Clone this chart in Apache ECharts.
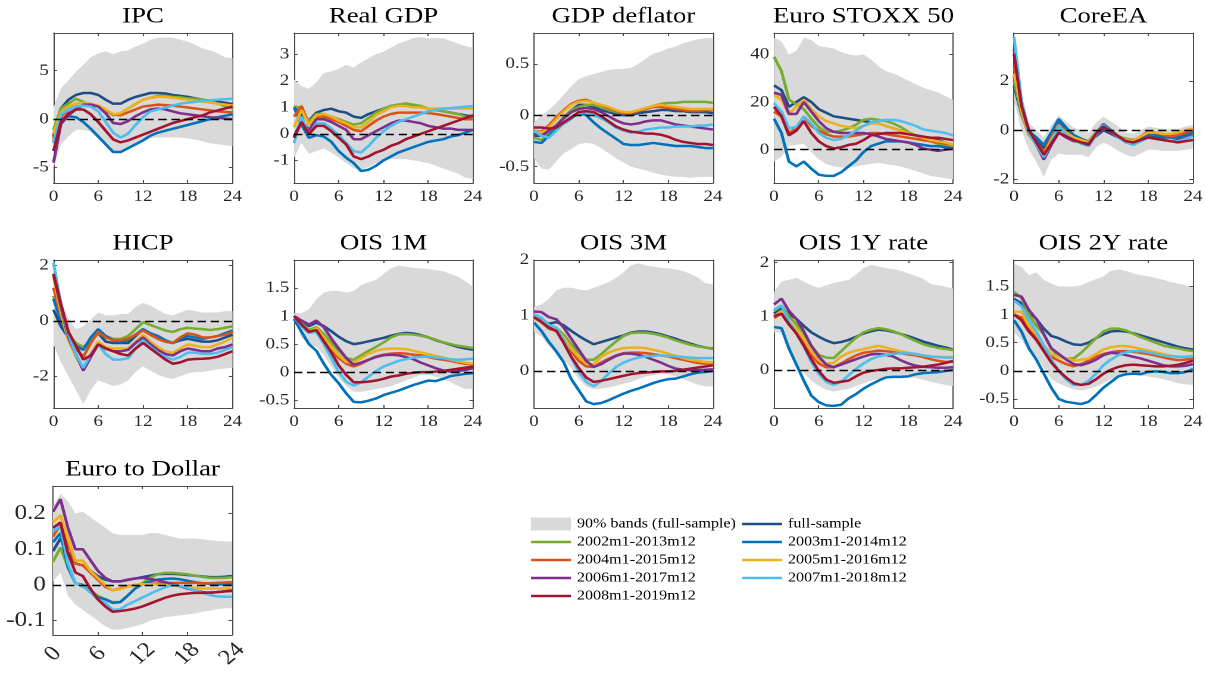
<!DOCTYPE html>
<html>
<head>
<meta charset="utf-8">
<script src="https://cdn.jsdelivr.net/npm/echarts@6/dist/echarts.min.js"></script>
<style>
  html, body { margin: 0; padding: 0; background: #fff; overflow: hidden; }
  /* the figure is laid out narrower and widened horizontally as a whole */
  #chart { width: 1013px; height: 675px; transform: scaleX(1.19052); transform-origin: 0 0; }
</style>
</head>
<body>
<div id="chart"></div>
<script>
// ---- horizon (months) ----
const months = [0,1,2,3,4,5,6,7,8,9,10,11,12,13,14,15,16,17,18,19,20,21,22,23,24];

// ---- samples ----
const bandName = '90% bands (full-sample)';
const sampleNames = ['full-sample','2002m1-2013m12','2003m1-2014m12','2004m1-2015m12',
                     '2005m1-2016m12','2006m1-2017m12','2007m1-2018m12','2008m1-2019m12'];

// ---- IPC ----
const ipcTicks = [-5, 0, 5];
const ipcFull = [-1.8,1.1,2.0,2.5,2.7,2.7,2.5,2.0,1.6,1.6,2.0,2.3,2.5,2.7,2.7,2.65,2.5,2.4,2.3,2.15,2.0,1.9,1.8,1.7,1.55];
const ipc02 = [-1.1,1.1,1.6,2.1,1.8,1.45,1.35,0.9,0.4,0.6,1.1,1.55,2.0,2.2,2.4,2.4,2.3,2.25,2.15,2.1,2.0,1.8,1.6,1.35,1.1];
const ipc03 = [-2.3,0.0,0.3,0.2,-0.3,-1.0,-1.8,-2.6,-3.4,-3.4,-3.0,-2.6,-2.2,-1.7,-1.4,-1.2,-1.0,-0.8,-0.6,-0.4,-0.2,0.0,0.2,0.35,0.5];
const ipc04 = [-2.0,0.3,1.0,1.3,1.4,1.4,1.3,0.9,0.5,0.4,0.7,1.0,1.3,1.4,1.5,1.45,1.4,1.3,1.2,1.1,1.0,0.9,0.8,0.75,0.7];
const ipc05 = [-1.5,0.7,1.3,1.6,1.7,1.6,1.4,1.0,0.5,0.6,1.1,1.6,2.0,2.2,2.3,2.3,2.2,2.1,2.0,1.9,1.8,1.7,1.6,1.5,1.4];
const ipc06 = [-4.5,-0.5,0.4,1.0,1.5,1.5,1.3,0.6,-0.4,-0.5,-0.2,0.3,0.7,1.0,1.1,1.0,0.8,0.6,0.5,0.4,0.3,0.2,0.15,0.05,0.0];
const ipc07 = [-2.5,0.5,1.0,1.3,1.4,1.3,0.8,-0.3,-1.4,-1.9,-1.5,-0.6,0.2,0.8,1.0,1.2,1.4,1.6,1.7,1.8,1.9,1.95,2.0,2.05,2.1];
const ipc08 = [-3.3,-0.3,0.6,1.0,1.0,0.5,-0.3,-1.2,-2.1,-2.4,-2.2,-1.9,-1.6,-1.3,-1.0,-0.7,-0.4,-0.2,0.0,0.2,0.4,0.7,0.9,1.1,1.3];
const ipcHi = [1.2,3.2,4.0,4.9,5.6,6.4,6.8,7.0,6.7,7.0,7.1,7.5,7.8,8.2,8.4,8.45,8.4,8.2,8.0,7.7,7.3,7.1,6.8,6.4,6.3];
const ipcLo = [-5.0,-2.6,-1.8,-1.1,-1.1,-1.3,-2.0,-2.8,-3.3,-3.3,-3.0,-2.6,-2.3,-2.0,-1.9,-1.9,-1.9,-1.9,-2.0,-2.1,-2.3,-2.5,-2.6,-2.7,-2.8];

// ---- Real GDP ----
const gdpTicks = [-1, 0, 1, 2, 3];
const gdpFull = [1.0,0.7,0.5,0.8,0.9,0.95,0.85,0.8,0.65,0.6,0.75,0.85,0.95,1.05,1.1,1.1,1.05,1.0,0.95,0.9,0.85,0.8,0.75,0.7,0.65];
const gdp02 = [1.05,0.95,0.45,0.75,0.75,0.65,0.55,0.45,0.35,0.4,0.6,0.8,0.95,1.05,1.1,1.15,1.1,1.05,0.95,0.9,0.85,0.8,0.75,0.65,0.55];
const gdp03 = [1.0,0.35,-0.15,-0.05,-0.1,-0.3,-0.65,-0.9,-1.1,-1.4,-1.35,-1.2,-1.0,-0.85,-0.7,-0.6,-0.5,-0.4,-0.3,-0.25,-0.2,-0.1,-0.05,0.05,0.15];
const gdp04 = [0.65,1.05,0.35,0.65,0.65,0.55,0.45,0.3,0.15,0.1,0.3,0.5,0.65,0.75,0.8,0.8,0.8,0.8,0.78,0.75,0.7,0.65,0.6,0.55,0.55];
const gdp05 = [0.25,0.9,0.35,0.7,0.75,0.65,0.5,0.4,0.25,0.25,0.45,0.7,0.85,1.0,1.05,1.05,1.0,1.0,0.95,0.95,0.95,0.95,0.95,0.95,0.95];
const gdp06 = [-0.1,0.5,0.15,0.55,0.55,0.45,0.3,0.15,-0.2,-0.2,-0.05,0.1,0.25,0.4,0.5,0.5,0.45,0.4,0.3,0.25,0.2,0.2,0.15,0.15,0.15];
const gdp07 = [-0.35,0.65,-0.05,0.4,0.4,0.2,-0.05,-0.35,-0.65,-0.7,-0.45,-0.15,0.1,0.3,0.45,0.55,0.65,0.75,0.85,0.9,0.95,0.97,1.0,1.02,1.05];
const gdp08 = [-0.15,0.45,0.0,0.3,0.3,0.1,-0.15,-0.4,-0.85,-0.95,-0.85,-0.7,-0.6,-0.45,-0.35,-0.2,-0.1,0.0,0.1,0.2,0.3,0.4,0.5,0.6,0.7];
const gdpHi = [2.05,1.8,1.7,1.95,2.3,2.35,2.45,2.6,2.5,2.7,2.85,3.0,3.1,3.25,3.4,3.5,3.6,3.65,3.6,3.6,3.6,3.5,3.4,3.3,3.25];
const gdpLo = [-0.9,-0.35,-0.75,-0.65,-0.55,-0.7,-0.9,-1.1,-1.3,-1.35,-1.25,-1.1,-1.0,-0.95,-0.95,-0.95,-1.0,-1.05,-1.1,-1.2,-1.3,-1.4,-1.5,-1.65,-1.7];

// ---- GDP deflator ----
const deflTicks = [-0.5, 0, 0.5];
const deflFull = [-0.2,-0.2,-0.17,-0.1,-0.02,0.05,0.1,0.1,0.08,0.05,0.03,0.01,0.0,0.0,0.02,0.03,0.04,0.05,0.05,0.04,0.04,0.03,0.03,0.03,0.02];
const defl02 = [-0.22,-0.24,-0.18,-0.1,-0.02,0.05,0.08,0.1,0.1,0.08,0.05,0.03,0.02,0.02,0.04,0.07,0.09,0.11,0.12,0.12,0.13,0.13,0.13,0.13,0.12];
const defl03 = [-0.26,-0.27,-0.2,-0.13,-0.08,-0.03,0.02,0.0,-0.07,-0.13,-0.18,-0.23,-0.28,-0.29,-0.29,-0.28,-0.27,-0.28,-0.29,-0.3,-0.3,-0.3,-0.31,-0.32,-0.32];
const defl04 = [-0.15,-0.16,-0.1,-0.02,0.05,0.11,0.14,0.15,0.12,0.1,0.07,0.04,0.02,0.02,0.04,0.06,0.08,0.08,0.07,0.06,0.05,0.04,0.04,0.05,0.05];
const defl05 = [-0.15,-0.17,-0.12,-0.04,0.04,0.1,0.13,0.14,0.12,0.1,0.08,0.05,0.03,0.03,0.05,0.07,0.09,0.1,0.09,0.08,0.07,0.06,0.06,0.06,0.06];
const defl06 = [-0.18,-0.2,-0.15,-0.1,-0.03,0.03,0.06,0.07,0.06,0.03,-0.01,-0.05,-0.08,-0.09,-0.08,-0.06,-0.05,-0.05,-0.07,-0.09,-0.1,-0.11,-0.12,-0.13,-0.14];
const defl07 = [-0.15,-0.2,-0.22,-0.15,-0.08,-0.02,0.02,0.03,0.0,-0.03,-0.07,-0.12,-0.15,-0.17,-0.16,-0.14,-0.13,-0.12,-0.12,-0.11,-0.11,-0.11,-0.1,-0.1,-0.09];
const defl08 = [-0.12,-0.12,-0.13,-0.12,-0.07,-0.02,0.03,0.04,0.03,-0.01,-0.06,-0.11,-0.14,-0.16,-0.17,-0.18,-0.18,-0.19,-0.21,-0.24,-0.26,-0.27,-0.28,-0.28,-0.29];
const deflHi = [-0.07,0.0,0.05,0.12,0.2,0.28,0.35,0.38,0.4,0.42,0.44,0.45,0.45,0.46,0.5,0.55,0.6,0.62,0.65,0.67,0.7,0.72,0.74,0.75,0.75];
const deflLo = [-0.42,-0.52,-0.53,-0.45,-0.37,-0.33,-0.28,-0.27,-0.28,-0.32,-0.37,-0.42,-0.46,-0.5,-0.52,-0.54,-0.56,-0.58,-0.59,-0.6,-0.6,-0.61,-0.6,-0.6,-0.6];

// ---- Euro STOXX 50 ----
const stoxxTicks = [0, 20, 40];
const stoxxFull = [27,25,18,20,22,20,17,15.5,14,13.5,13,12.5,12,11.5,11,10,9,8,7,6,5,4.5,4,3,2];
const stoxx02 = [39,33,21,19,17,13,9.5,7.5,7.5,8,9,10.5,12.5,13,12.5,12,11,9.5,7.5,6,4.5,3.5,2.5,1.5,1];
const stoxx03 = [13,7,-5,-7,-5,-8,-10.5,-11,-11,-9.5,-7,-4.5,-1,1.5,2.5,3.5,3.5,3.5,3,2.5,2,1.5,1.5,1,0.5];
const stoxx04 = [16,14,7,9,14,10,8,6.5,5.5,5.5,5.5,6,6.5,7,7,6.5,6,5.5,5,4.5,4,3.5,3,2.5,2];
const stoxx05 = [23,21,15,18,21,17,14,12,11,10,9.5,9,10,11,11,10,9,8,7,6,5,4,3.5,3,2];
const stoxx06 = [24,23,15,15,20,16,12,9,7.5,7,7,7,7,6.5,5.5,4.5,4,3.5,3,2,0.5,0,-0.5,0,0.5];
const stoxx07 = [19.5,16,9,9.5,14,11,7,5,4,4.5,6,8,10,11.5,12,12.5,12.5,12,11,10,8.5,8,7.5,7,6];
const stoxx08 = [18,14,6,8,12,7,3.5,1.5,0.5,1,2,2.5,4,6,6.5,7,7,7,6.5,6,5.5,5,5,4.5,4];
const stoxxHi = [47,45.5,40,41.5,47,46,43.5,43,42.5,41,40,39.5,40,38,35,33,32,30.5,29,27.5,26,25,24,22.5,21];
const stoxxLo = [-5,-3,1.5,2,2.5,-1,-4,-6,-7,-7.5,-7.5,-7,-6.5,-6,-5.5,-6,-6.5,-7,-8,-9,-10,-11,-11.5,-12,-12.5];

// ---- CoreEA ----
const coreTicks = [-2, 0, 2];
const coreFull = [1.8,0.65,-0.15,-0.4,-0.75,-0.2,0.3,0.0,-0.25,-0.4,-0.5,-0.25,0.0,-0.15,-0.3,-0.45,-0.5,-0.35,-0.25,-0.3,-0.3,-0.3,-0.3,-0.2,-0.1];
const core02 = [2.0,0.7,-0.2,-0.55,-0.9,-0.35,0.2,-0.05,-0.25,-0.35,-0.45,-0.1,0.2,-0.05,-0.25,-0.35,-0.4,-0.3,-0.15,-0.2,-0.25,-0.25,-0.2,-0.1,-0.05];
const core03 = [2.2,0.8,-0.05,-0.3,-0.6,-0.1,0.45,0.1,-0.2,-0.35,-0.5,-0.15,0.25,0.0,-0.25,-0.4,-0.5,-0.3,-0.15,-0.2,-0.25,-0.3,-0.3,-0.2,-0.1];
const core04 = [2.6,0.9,-0.1,-0.5,-0.9,-0.3,0.25,-0.1,-0.3,-0.4,-0.5,-0.15,0.2,-0.05,-0.25,-0.4,-0.45,-0.25,-0.05,-0.1,-0.2,-0.25,-0.2,-0.1,0.0];
const core05 = [2.3,0.8,-0.15,-0.6,-1.0,-0.4,0.15,-0.1,-0.3,-0.4,-0.5,-0.15,0.15,-0.05,-0.25,-0.4,-0.45,-0.25,-0.1,-0.1,-0.15,-0.15,-0.1,0.0,0.05];
const core06 = [3.3,1.05,-0.1,-0.6,-1.2,-0.6,-0.1,-0.3,-0.45,-0.5,-0.55,-0.2,0.1,-0.1,-0.3,-0.45,-0.5,-0.4,-0.3,-0.35,-0.4,-0.45,-0.4,-0.3,-0.2];
const core07 = [3.8,1.2,-0.1,-0.6,-1.1,-0.5,0.2,-0.2,-0.4,-0.55,-0.65,-0.2,0.2,-0.05,-0.3,-0.5,-0.6,-0.45,-0.3,-0.35,-0.4,-0.45,-0.45,-0.35,-0.25];
const core08 = [3.1,1.0,0.0,-0.5,-1.0,-0.55,-0.1,-0.25,-0.4,-0.5,-0.6,-0.15,0.15,-0.05,-0.25,-0.45,-0.5,-0.4,-0.3,-0.35,-0.4,-0.45,-0.5,-0.45,-0.4];
const coreHi = [3.9,1.5,0.3,0.0,-0.3,0.2,0.6,0.35,0.1,0.0,-0.1,0.3,0.55,0.35,0.15,-0.1,-0.15,0.0,0.15,0.1,0.05,0.05,0.05,0.15,0.2];
const coreLo = [1.2,0.0,-0.8,-1.3,-1.9,-1.2,-0.95,-1.0,-1.0,-1.0,-1.1,-0.7,-0.5,-0.65,-0.85,-1.0,-1.1,-0.95,-0.8,-0.8,-0.85,-0.85,-0.85,-0.8,-0.75];

// ---- HICP ----
const hicpTicks = [-2, 0, 2];
const hicpFull = [0.4,-0.2,-0.6,-0.9,-1.0,-0.7,-0.45,-0.75,-0.8,-0.8,-0.8,-0.55,-0.3,-0.5,-0.65,-0.75,-0.8,-0.7,-0.65,-0.7,-0.75,-0.75,-0.7,-0.6,-0.5];
const hicp02 = [0.9,0.1,-0.5,-0.8,-0.95,-0.7,-0.45,-0.55,-0.65,-0.65,-0.55,-0.3,-0.05,-0.15,-0.25,-0.35,-0.4,-0.3,-0.25,-0.28,-0.3,-0.33,-0.3,-0.25,-0.2];
const hicp03 = [0.8,0.0,-0.6,-0.9,-1.05,-0.6,-0.3,-0.55,-0.7,-0.75,-0.7,-0.5,-0.3,-0.45,-0.55,-0.7,-0.8,-0.65,-0.55,-0.6,-0.65,-0.6,-0.55,-0.45,-0.35];
const hicp04 = [1.2,0.2,-0.5,-1.0,-1.3,-0.8,-0.4,-0.6,-0.7,-0.7,-0.65,-0.5,-0.35,-0.5,-0.65,-0.75,-0.8,-0.6,-0.45,-0.5,-0.6,-0.6,-0.55,-0.5,-0.4];
const hicp05 = [1.6,0.3,-0.7,-1.3,-1.75,-1.2,-0.75,-0.95,-1.0,-1.0,-1.0,-0.75,-0.5,-0.75,-0.95,-1.1,-1.15,-1.0,-0.85,-0.9,-0.95,-0.95,-0.85,-0.75,-0.6];
const hicp06 = [1.7,0.5,-0.6,-1.2,-1.8,-1.3,-0.85,-1.0,-1.1,-1.1,-1.05,-0.8,-0.6,-0.85,-1.05,-1.2,-1.25,-1.1,-1.0,-1.05,-1.1,-1.1,-1.0,-0.95,-0.85];
const hicp07 = [2.1,0.6,-0.5,-1.2,-1.7,-1.2,-0.85,-1.2,-1.4,-1.4,-1.35,-1.0,-0.7,-0.95,-1.15,-1.3,-1.4,-1.3,-1.15,-1.15,-1.2,-1.2,-1.15,-1.05,-0.95];
const hicp08 = [1.7,0.6,-0.4,-0.9,-1.4,-1.25,-0.85,-1.0,-1.1,-1.2,-1.25,-1.0,-0.8,-1.0,-1.2,-1.4,-1.55,-1.5,-1.4,-1.38,-1.37,-1.35,-1.3,-1.2,-1.1];
const hicpHi = [1.6,0.7,0.1,-0.3,-0.2,0.05,0.3,0.2,0.2,0.25,0.25,0.5,0.65,0.55,0.4,0.25,0.2,0.3,0.4,0.35,0.3,0.3,0.3,0.35,0.35];
const hicpLo = [-0.85,-1.5,-2.0,-2.5,-3.0,-2.5,-2.15,-2.25,-2.35,-2.3,-2.15,-1.85,-1.65,-1.8,-1.95,-2.05,-2.1,-2.0,-1.9,-1.85,-1.85,-1.8,-1.75,-1.72,-1.7];

// ---- OIS 1M ----
const ois1mTicks = [-0.5, 0, 0.5, 1, 1.5];
const ois1mFull = [1.0,0.9,0.82,0.88,0.82,0.73,0.63,0.55,0.5,0.52,0.55,0.58,0.61,0.65,0.68,0.7,0.69,0.66,0.62,0.57,0.53,0.49,0.45,0.42,0.4];
const ois1m02 = [1.0,0.87,0.75,0.8,0.68,0.52,0.38,0.25,0.22,0.3,0.38,0.45,0.53,0.62,0.67,0.68,0.67,0.65,0.62,0.58,0.53,0.5,0.47,0.45,0.43];
const ois1m03 = [0.95,0.72,0.5,0.38,0.15,-0.05,-0.2,-0.38,-0.53,-0.54,-0.51,-0.47,-0.41,-0.37,-0.33,-0.28,-0.23,-0.19,-0.15,-0.16,-0.12,-0.07,-0.05,-0.03,-0.02];
const ois1m04 = [1.0,0.85,0.7,0.75,0.6,0.4,0.25,0.15,0.1,0.15,0.22,0.28,0.31,0.33,0.34,0.33,0.31,0.3,0.27,0.24,0.22,0.2,0.17,0.15,0.14];
const ois1m05 = [1.0,0.85,0.72,0.78,0.62,0.44,0.3,0.18,0.17,0.25,0.33,0.38,0.41,0.42,0.42,0.41,0.38,0.35,0.32,0.29,0.26,0.22,0.19,0.17,0.15];
const ois1m06 = [1.0,0.92,0.85,0.92,0.8,0.6,0.42,0.25,0.13,0.17,0.22,0.27,0.3,0.31,0.3,0.27,0.23,0.17,0.12,0.07,0.03,0.01,0.02,0.04,0.07];
const ois1m07 = [1.0,0.82,0.7,0.72,0.5,0.25,0.0,-0.17,-0.24,-0.18,-0.08,0.02,0.1,0.15,0.2,0.23,0.26,0.27,0.28,0.26,0.25,0.23,0.22,0.23,0.24];
const ois1m08 = [1.0,0.85,0.72,0.75,0.55,0.35,0.12,-0.05,-0.18,-0.18,-0.17,-0.15,-0.12,-0.08,-0.06,-0.03,-0.01,0.0,0.0,0.01,0.02,0.04,0.06,0.08,0.1];
const ois1mHi = [1.05,1.05,1.12,1.3,1.42,1.45,1.45,1.42,1.45,1.55,1.6,1.65,1.75,1.85,1.9,1.88,1.86,1.85,1.84,1.82,1.8,1.75,1.7,1.62,1.52];
const ois1mLo = [0.95,0.62,0.5,0.45,0.3,0.1,-0.1,-0.25,-0.35,-0.35,-0.33,-0.3,-0.28,-0.25,-0.2,-0.15,-0.1,-0.05,-0.05,-0.08,-0.12,-0.18,-0.25,-0.3,-0.3];

// ---- OIS 3M ----
const ois3mTicks = [0, 1, 2];
const ois3mFull = [0.95,0.92,0.85,0.88,0.82,0.72,0.63,0.55,0.48,0.52,0.56,0.6,0.64,0.69,0.71,0.71,0.69,0.66,0.62,0.58,0.53,0.49,0.45,0.42,0.4];
const ois3m02 = [0.97,0.9,0.8,0.77,0.65,0.48,0.33,0.2,0.2,0.3,0.42,0.53,0.63,0.68,0.69,0.69,0.67,0.64,0.6,0.55,0.51,0.47,0.44,0.42,0.41];
const ois3m03 = [0.87,0.72,0.52,0.35,0.15,-0.15,-0.35,-0.55,-0.6,-0.58,-0.53,-0.47,-0.41,-0.36,-0.32,-0.27,-0.22,-0.18,-0.15,-0.14,-0.1,-0.06,-0.03,-0.02,0.0];
const ois3m04 = [0.97,0.88,0.76,0.72,0.55,0.35,0.18,0.08,0.07,0.15,0.22,0.28,0.32,0.33,0.33,0.32,0.3,0.28,0.26,0.23,0.2,0.17,0.14,0.13,0.13];
const ois3m05 = [0.95,0.88,0.78,0.75,0.6,0.4,0.25,0.13,0.12,0.25,0.33,0.38,0.41,0.42,0.42,0.41,0.38,0.35,0.31,0.27,0.23,0.2,0.18,0.16,0.15];
const ois3m06 = [1.07,1.06,0.97,0.93,0.78,0.58,0.38,0.18,0.07,0.12,0.2,0.27,0.31,0.31,0.29,0.25,0.2,0.15,0.09,0.04,0.02,0.01,0.01,0.02,0.03];
const ois3m07 = [1.02,0.96,0.83,0.78,0.55,0.25,-0.02,-0.2,-0.28,-0.18,-0.05,0.07,0.15,0.2,0.24,0.26,0.27,0.28,0.27,0.26,0.25,0.24,0.23,0.23,0.23];
const ois3m08 = [0.97,0.88,0.78,0.72,0.5,0.25,0.05,-0.12,-0.2,-0.18,-0.15,-0.12,-0.09,-0.06,-0.04,-0.03,-0.02,-0.01,-0.01,0.0,0.02,0.04,0.06,0.08,0.1];
const ois3mHi = [1.15,1.2,1.3,1.45,1.5,1.5,1.47,1.45,1.5,1.55,1.6,1.68,1.78,1.9,1.94,1.9,1.88,1.86,1.85,1.83,1.8,1.75,1.68,1.58,1.56];
const ois3mLo = [0.7,0.62,0.45,0.3,0.2,0.05,-0.15,-0.28,-0.33,-0.32,-0.3,-0.27,-0.23,-0.2,-0.15,-0.1,-0.08,-0.06,-0.06,-0.1,-0.15,-0.2,-0.25,-0.28,-0.28];

// ---- OIS 1Y rate ----
const ois1yTicks = [0, 1, 2];
const ois1yFull = [1.05,1.15,1.05,0.95,0.82,0.7,0.62,0.55,0.5,0.52,0.56,0.62,0.68,0.72,0.75,0.74,0.71,0.67,0.63,0.58,0.53,0.49,0.45,0.42,0.38];
const ois1y02 = [1.1,1.2,1.0,0.85,0.68,0.45,0.28,0.23,0.22,0.35,0.48,0.6,0.7,0.75,0.78,0.76,0.72,0.67,0.6,0.54,0.48,0.44,0.41,0.39,0.37];
const ois1y03 = [0.8,0.78,0.4,0.1,-0.2,-0.48,-0.6,-0.66,-0.67,-0.65,-0.53,-0.45,-0.35,-0.27,-0.2,-0.14,-0.13,-0.13,-0.12,-0.08,-0.06,-0.05,-0.04,-0.02,0.0];
const ois1y04 = [0.97,1.05,0.85,0.7,0.5,0.28,0.12,0.05,0.05,0.12,0.2,0.27,0.32,0.34,0.36,0.35,0.33,0.31,0.29,0.27,0.24,0.2,0.17,0.15,0.15];
const ois1y05 = [1.0,1.1,0.9,0.77,0.58,0.35,0.18,0.12,0.13,0.25,0.32,0.36,0.39,0.42,0.45,0.42,0.38,0.35,0.32,0.29,0.27,0.25,0.24,0.24,0.24];
const ois1y06 = [1.22,1.33,1.1,0.95,0.72,0.45,0.25,0.1,0.05,0.1,0.15,0.2,0.25,0.29,0.3,0.28,0.25,0.18,0.12,0.08,0.06,0.05,0.04,0.04,0.05];
const ois1y07 = [1.12,1.2,0.9,0.68,0.45,0.15,-0.07,-0.22,-0.28,-0.22,-0.1,0.02,0.12,0.2,0.25,0.28,0.3,0.31,0.31,0.3,0.27,0.25,0.24,0.23,0.23];
const ois1y08 = [1.0,1.05,0.85,0.68,0.45,0.2,-0.02,-0.18,-0.24,-0.22,-0.2,-0.12,-0.05,-0.02,0.0,0.02,0.03,0.03,0.04,0.05,0.06,0.08,0.1,0.13,0.17];
const ois1yHi = [1.45,1.65,1.68,1.72,1.65,1.58,1.53,1.58,1.62,1.65,1.68,1.78,1.9,1.96,1.93,1.9,1.88,1.85,1.8,1.75,1.7,1.6,1.58,1.55,1.52];
const ois1yLo = [0.7,0.7,0.35,0.1,-0.05,-0.2,-0.3,-0.37,-0.4,-0.38,-0.35,-0.3,-0.25,-0.2,-0.17,-0.14,-0.13,-0.12,-0.13,-0.15,-0.18,-0.22,-0.25,-0.28,-0.3];

// ---- OIS 2Y rate ----
const ois2yTicks = [-0.5, 0, 0.5, 1, 1.5];
const ois2yFull = [1.28,1.2,1.05,0.92,0.75,0.62,0.58,0.52,0.47,0.46,0.5,0.58,0.65,0.7,0.71,0.7,0.67,0.63,0.59,0.55,0.51,0.47,0.43,0.4,0.38];
const ois2y02 = [1.4,1.3,1.0,0.8,0.65,0.4,0.25,0.22,0.22,0.32,0.45,0.58,0.7,0.75,0.75,0.72,0.66,0.6,0.55,0.5,0.45,0.42,0.4,0.37,0.35];
const ois2y03 = [0.9,0.7,0.4,0.2,-0.05,-0.3,-0.5,-0.55,-0.57,-0.59,-0.55,-0.43,-0.3,-0.2,-0.1,-0.06,-0.05,-0.06,-0.02,-0.01,-0.02,-0.04,-0.04,-0.02,0.03];
const ois2y04 = [1.0,0.95,0.75,0.6,0.4,0.25,0.18,0.12,0.08,0.12,0.18,0.25,0.3,0.33,0.35,0.35,0.34,0.32,0.3,0.27,0.24,0.21,0.19,0.2,0.22];
const ois2y05 = [1.05,1.05,0.8,0.65,0.45,0.3,0.25,0.22,0.18,0.2,0.22,0.3,0.38,0.42,0.44,0.44,0.42,0.39,0.36,0.33,0.3,0.27,0.25,0.25,0.27];
const ois2y06 = [1.35,1.32,1.08,0.92,0.65,0.4,0.3,0.2,0.12,0.1,0.14,0.2,0.28,0.32,0.31,0.28,0.25,0.22,0.18,0.14,0.1,0.08,0.08,0.09,0.12];
const ois2y07 = [1.25,1.15,0.9,0.7,0.45,0.2,0.0,-0.15,-0.25,-0.25,-0.18,-0.05,0.1,0.2,0.28,0.33,0.35,0.35,0.33,0.3,0.27,0.26,0.25,0.25,0.25];
const ois2y08 = [1.0,0.9,0.7,0.55,0.35,0.15,0.0,-0.12,-0.22,-0.25,-0.23,-0.15,-0.05,0.02,0.07,0.1,0.11,0.1,0.09,0.08,0.08,0.09,0.11,0.14,0.18];
const ois2yHi = [1.9,1.85,1.7,1.75,1.62,1.55,1.5,1.5,1.5,1.52,1.58,1.63,1.68,1.78,1.8,1.78,1.73,1.7,1.68,1.65,1.62,1.58,1.55,1.52,1.48];
const ois2yLo = [0.68,0.55,0.35,0.25,0.05,-0.15,-0.22,-0.28,-0.33,-0.35,-0.32,-0.28,-0.22,-0.15,-0.1,-0.07,-0.07,-0.08,-0.1,-0.12,-0.15,-0.18,-0.22,-0.24,-0.25];

// ---- Euro to Dollar ----
const fxTicks = [-0.1, 0, 0.1, 0.2];
const fxFull = [0.095,0.13,0.09,0.06,0.055,0.04,0.025,0.015,0.01,0.01,0.014,0.018,0.022,0.026,0.03,0.031,0.031,0.03,0.028,0.026,0.024,0.022,0.022,0.023,0.025];
const fx02 = [0.065,0.105,0.05,0.005,-0.005,-0.015,-0.03,-0.04,-0.048,-0.048,-0.03,-0.01,0.005,0.02,0.03,0.034,0.034,0.032,0.03,0.026,0.023,0.02,0.02,0.02,0.022];
const fx03 = [0.12,0.145,0.05,0.005,0.0,-0.02,-0.035,-0.04,-0.05,-0.048,-0.03,-0.01,0.002,0.01,0.015,0.017,0.018,0.016,0.012,0.008,0.005,0.003,0.002,0.002,0.002];
const fx04 = [0.135,0.17,0.12,0.06,0.055,0.035,0.015,-0.005,-0.015,-0.01,-0.003,0.0,0.002,0.003,0.004,0.005,0.006,0.006,0.006,0.006,0.005,0.005,0.006,0.007,0.008];
const fx05 = [0.175,0.195,0.13,0.068,0.068,0.04,0.02,0.0,-0.015,-0.012,-0.005,0.0,0.002,0.002,0.001,0.0,-0.002,-0.004,-0.006,-0.008,-0.01,-0.01,-0.01,-0.01,-0.01];
const fx06 = [0.205,0.24,0.16,0.1,0.1,0.07,0.04,0.02,0.01,0.01,0.015,0.018,0.02,0.017,0.013,0.008,0.003,-0.003,-0.01,-0.015,-0.02,-0.022,-0.02,-0.018,-0.015];
const fx07 = [0.15,0.165,0.06,0.005,-0.003,-0.02,-0.04,-0.05,-0.07,-0.068,-0.055,-0.045,-0.035,-0.025,-0.015,-0.007,0.0,-0.002,-0.008,-0.015,-0.022,-0.028,-0.032,-0.033,-0.033];
const fx08 = [0.16,0.175,0.09,0.035,0.025,-0.01,-0.04,-0.06,-0.075,-0.073,-0.07,-0.066,-0.06,-0.052,-0.044,-0.036,-0.03,-0.026,-0.024,-0.022,-0.022,-0.021,-0.02,-0.018,-0.017];
const fxHi = [0.22,0.255,0.235,0.2,0.205,0.19,0.175,0.16,0.145,0.14,0.14,0.14,0.14,0.145,0.145,0.14,0.135,0.13,0.13,0.13,0.128,0.125,0.123,0.122,0.122];
const fxLo = [0.01,0.035,-0.03,-0.055,-0.07,-0.085,-0.1,-0.115,-0.125,-0.125,-0.12,-0.115,-0.11,-0.1,-0.095,-0.09,-0.088,-0.085,-0.083,-0.08,-0.075,-0.072,-0.068,-0.065,-0.065];

// ---- styling ----
const SX = 1206 / 1013;          // horizontal widening of the whole figure
const FONT = '"Liberation Serif", "Times New Roman", serif';
const AXIS = '#4a4a4a';
const BAND = '#d9d9d9';
const COLORS = ['#1f4e87', '#77AC30', '#0072BD', '#D95319', '#EDB120', '#7E2F8E', '#4DBEEE', '#A2142F'];
const LINE_W = 2.5;

// panel table: title, y-range, ticks, lines, band, and its box on the page
const panels = [
  { title: 'IPC', yMin: -6.6, yMax: 8.9, ticks: ipcTicks, lines: [ipcFull, ipc02, ipc03, ipc04, ipc05, ipc06, ipc07, ipc08], lo: ipcLo, hi: ipcHi, box: [53.5, 33, 179, 150] },
  { title: 'Real GDP', yMin: -1.85, yMax: 3.8, ticks: gdpTicks, lines: [gdpFull, gdp02, gdp03, gdp04, gdp05, gdp06, gdp07, gdp08], lo: gdpLo, hi: gdpHi, box: [294, 33, 179, 150] },
  { title: 'GDP deflator', yMin: -0.66, yMax: 0.8, ticks: deflTicks, lines: [deflFull, defl02, defl03, defl04, defl05, defl06, defl07, defl08], lo: deflLo, hi: deflHi, box: [534, 33, 179, 150] },
  { title: 'Euro STOXX 50', yMin: -14, yMax: 49, ticks: stoxxTicks, lines: [stoxxFull, stoxx02, stoxx03, stoxx04, stoxx05, stoxx06, stoxx07, stoxx08], lo: stoxxLo, hi: stoxxHi, box: [774, 33, 179, 150] },
  { title: 'CoreEA', yMin: -2.15, yMax: 3.95, ticks: coreTicks, lines: [coreFull, core02, core03, core04, core05, core06, core07, core08], lo: coreLo, hi: coreHi, box: [1014, 33, 179, 150] },
  { title: 'HICP', yMin: -3.15, yMax: 2.2, ticks: hicpTicks, lines: [hicpFull, hicp02, hicp03, hicp04, hicp05, hicp06, hicp07, hicp08], lo: hicpLo, hi: hicpHi, box: [53.5, 260, 179, 148] },
  { title: 'OIS 1M', yMin: -0.64, yMax: 2.0, ticks: ois1mTicks, lines: [ois1mFull, ois1m02, ois1m03, ois1m04, ois1m05, ois1m06, ois1m07, ois1m08], lo: ois1mLo, hi: ois1mHi, box: [294, 260, 179, 148] },
  { title: 'OIS 3M', yMin: -0.67, yMax: 2.0, ticks: ois3mTicks, lines: [ois3mFull, ois3m02, ois3m03, ois3m04, ois3m05, ois3m06, ois3m07, ois3m08], lo: ois3mLo, hi: ois3mHi, box: [534, 260, 179, 148] },
  { title: 'OIS 1Y rate', yMin: -0.71, yMax: 2.05, ticks: ois1yTicks, lines: [ois1yFull, ois1y02, ois1y03, ois1y04, ois1y05, ois1y06, ois1y07, ois1y08], lo: ois1yLo, hi: ois1yHi, box: [774, 260, 179, 148] },
  { title: 'OIS 2Y rate', yMin: -0.66, yMax: 1.97, ticks: ois2yTicks, lines: [ois2yFull, ois2y02, ois2y03, ois2y04, ois2y05, ois2y06, ois2y07, ois2y08], lo: ois2yLo, hi: ois2yHi, box: [1014, 260, 179, 148] },
  { title: 'Euro to Dollar', yMin: -0.14, yMax: 0.277, ticks: fxTicks, lines: [fxFull, fx02, fx03, fx04, fx05, fx06, fx07, fx08], lo: fxLo, hi: fxHi, box: [53, 486, 179, 149], big: true }
];

const fmt = v => String(Math.round(v * 1000) / 1000);

const grid = [], xAxis = [], yAxis = [], series = [], title = [];
panels.forEach((p, i) => {
  const [L, T, W, H] = p.box;
  const fs = p.big ? 21 : 16;
  grid.push({ left: L / SX, top: T, width: W / SX, height: H });
  title.push({
    text: p.title, left: (L + W / 2) / SX, top: T - 28, textAlign: 'center', padding: 0,
    textStyle: { fontFamily: FONT, fontSize: 22.5, fontWeight: 'normal', color: '#000' }
  });
  const axLine = { show: true, onZero: false, lineStyle: { color: AXIS, width: 1 } };
  xAxis.push({
    gridIndex: i, type: 'category', data: months, boundaryGap: false, position: 'bottom',
    axisLine: axLine,
    axisTick: { show: true, inside: true, length: 3, interval: 5, lineStyle: { color: AXIS } },
    axisLabel: p.big
      ? { interval: 5, rotate: 45, align: 'center', verticalAlign: 'middle', margin: 19, color: '#262626', fontFamily: FONT, fontSize: fs }
      : { interval: 5, margin: 6, color: '#262626', fontFamily: FONT, fontSize: fs },
    splitLine: { show: false }
  });
  xAxis.push({
    gridIndex: i, type: 'category', data: months, boundaryGap: false, position: 'top',
    axisLine: axLine,
    axisTick: { show: true, inside: true, length: 3, interval: 5, lineStyle: { color: AXIS } },
    axisLabel: { show: false }, splitLine: { show: false }
  });
  yAxis.push({
    gridIndex: i, type: 'value', min: p.yMin, max: p.yMax, position: 'left',
    axisLine: axLine,
    axisTick: { show: true, inside: true, length: 3, customValues: p.ticks, lineStyle: { color: AXIS } },
    axisLabel: { customValues: p.ticks, formatter: fmt, margin: p.big ? 6 : 4, color: '#262626', fontFamily: FONT, fontSize: fs },
    splitLine: { show: false }
  });
  yAxis.push({
    gridIndex: i, type: 'value', min: p.yMin, max: p.yMax, position: 'right',
    axisLine: axLine,
    axisTick: { show: true, inside: true, length: 3, customValues: p.ticks, lineStyle: { color: AXIS } },
    axisLabel: { show: false }, splitLine: { show: false }
  });

  const xi = 2 * i, yi = 2 * i;
  // 90% band: lower bound plus stacked width, shaded between them
  series.push({
    type: 'line', name: 'lower bound', xAxisIndex: xi, yAxisIndex: yi, data: p.lo,
    stack: 'band' + i, stackStrategy: 'all', symbol: 'none', silent: true,
    lineStyle: { opacity: 0 }, z: 1
  });
  series.push({
    type: 'line', name: bandName, xAxisIndex: xi, yAxisIndex: yi,
    data: p.hi.map((v, k) => v - p.lo[k]),
    stack: 'band' + i, stackStrategy: 'all', symbol: 'none', silent: true,
    color: BAND, itemStyle: { color: BAND },
    lineStyle: { opacity: 0 }, areaStyle: { color: BAND, opacity: 1 }, z: 1,
    markLine: {
      silent: true, symbol: 'none', z: 4, label: { show: false },
      lineStyle: { color: '#000', type: [7, 4], width: 1.4 },
      data: [{ yAxis: 0 }]
    }
  });
  p.lines.forEach((arr, k) => {
    series.push({
      type: 'line', name: sampleNames[k], xAxisIndex: xi, yAxisIndex: yi, data: arr,
      symbol: 'none', z: 3, color: COLORS[k], itemStyle: { color: COLORS[k] },
      lineStyle: { width: LINE_W, color: COLORS[k] }
    });
  });
});

// legend: two columns, band swatch on its own, line swatches as thin bars
const legendText = { fontFamily: FONT, fontSize: 13.5, color: '#000', lineHeight: 18 };
const ROW = 18, LEG_TOP = 515;
const lineItem = k => ({ name: sampleNames[k], icon: 'rect', itemStyle: { color: COLORS[k] } });
const legendBase = {
  orient: 'vertical', padding: 0, itemGap: 0, itemWidth: 40 / SX,
  selectedMode: false, textStyle: legendText
};
const option = {
  animation: false,
  backgroundColor: '#fff',
  title, grid, xAxis, yAxis, series,
  legend: [
    Object.assign({}, legendBase, {
      left: 531 / SX, top: LEG_TOP, itemHeight: 13,
      data: [{ name: bandName, icon: 'rect', itemStyle: { color: BAND } }]
    }),
    Object.assign({}, legendBase, {
      left: 531 / SX, top: LEG_TOP + ROW, itemHeight: LINE_W,
      data: [lineItem(1), lineItem(3), lineItem(5), lineItem(7)]
    }),
    Object.assign({}, legendBase, {
      left: 742 / SX, top: LEG_TOP, itemHeight: LINE_W,
      data: [lineItem(0), lineItem(2), lineItem(4), lineItem(6)]
    })
  ]
};

const chart = echarts.init(document.getElementById('chart'), null, { renderer: 'canvas', devicePixelRatio: 2 });
chart.setOption(option);
</script>
</body>
</html>
